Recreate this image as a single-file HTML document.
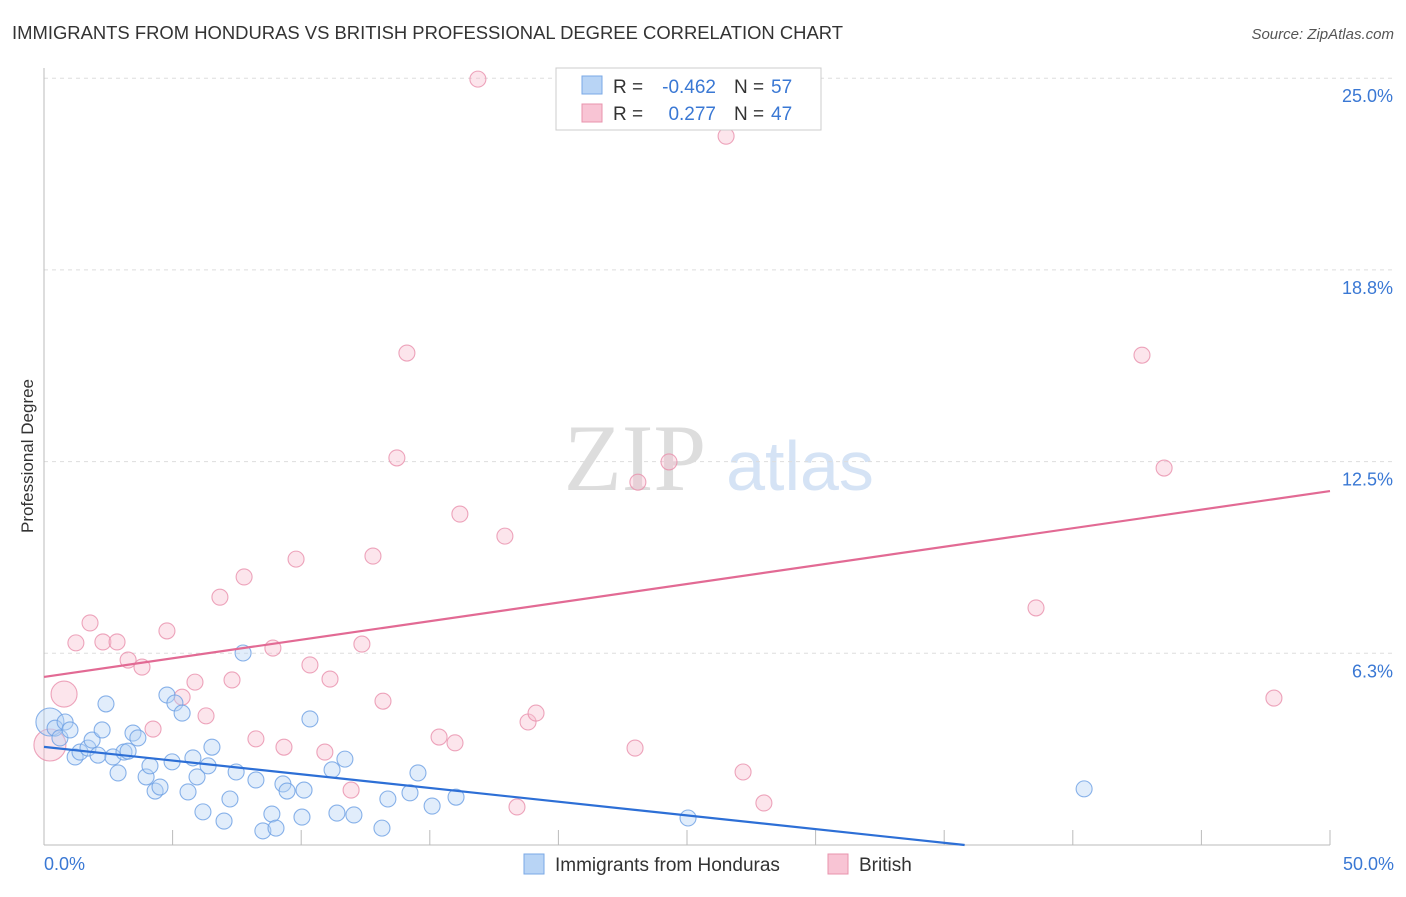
<!DOCTYPE html>
<html><head><meta charset="utf-8"><style>
body{margin:0;background:#fff;font-family:"Liberation Sans",sans-serif}
</style></head><body>
<svg id="c" width="1406" height="892" xmlns="http://www.w3.org/2000/svg">
<text x="12" y="39" font-size="18" fill="#333" textLength="831" lengthAdjust="spacingAndGlyphs">IMMIGRANTS FROM HONDURAS VS BRITISH PROFESSIONAL DEGREE CORRELATION CHART</text>
<text x="1394" y="39" font-size="15" fill="#555" font-style="italic" text-anchor="end">Source: ZipAtlas.com</text>
<text transform="translate(33,456) rotate(-90)" font-size="17" fill="#333" text-anchor="middle">Professional Degree</text>
<g><text x="635" y="490" font-size="95" fill="#ddd" font-family="Liberation Serif" text-anchor="middle">ZIP</text><text x="800" y="490" font-size="70" fill="#d5e3f5" text-anchor="middle">atlas</text></g>
<g id="grid"></g><g id="axes"></g><g id="pts"></g><g id="lines"></g>
<g>
<rect x="556" y="68" width="265" height="62" fill="#fff" stroke="#ccc"/>
<rect x="582" y="76" width="20" height="18" fill="#b8d4f5" stroke="#7aa8e6"/>
<text x="613" y="93" font-size="19" fill="#333">R =</text>
<text x="716" y="93" font-size="19" fill="#3a78d4" text-anchor="end">-0.462</text>
<text x="734" y="93" font-size="19" fill="#333">N =</text>
<text x="771" y="93" font-size="19" fill="#3a78d4">57</text>
<rect x="582" y="104" width="20" height="18" fill="#f8c4d4" stroke="#e893ad"/>
<text x="613" y="120" font-size="19" fill="#333">R =</text>
<text x="716" y="120" font-size="19" fill="#3a78d4" text-anchor="end">0.277</text>
<text x="734" y="120" font-size="19" fill="#333">N =</text>
<text x="771" y="120" font-size="19" fill="#3a78d4">47</text>
</g>
<g>
<rect x="524" y="854" width="20" height="20" fill="#b8d4f5" stroke="#7aa8e6"/>
<text x="555" y="871" font-size="19" fill="#333">Immigrants from Honduras</text>
<rect x="828" y="854" width="20" height="20" fill="#f8c4d4" stroke="#e893ad"/>
<text x="859" y="871" font-size="19" fill="#333">British</text>
</g>
</svg>
<script>
const blueX=[.23,.43,.62,.82,1.01,1.21,1.40,1.71,1.87,2.10,2.26,2.41,2.68,2.88,3.11,3.27,3.46,3.65,3.97,4.12,4.32,4.51,4.78,4.98,5.09,5.37,5.60,5.79,5.95,6.18,6.38,6.53,7.00,7.23,7.47,7.74,8.24,8.51,8.86,9.02,9.29,9.45,10.03,10.11,10.34,11.20,11.39,11.70,12.05,13.14,13.37,14.23,14.54,15.09,16.02,25.04,40.44];
const blueY=[4.01,3.81,3.49,4.01,3.75,2.87,3.03,3.16,3.42,2.93,3.75,4.60,2.87,2.35,3.03,3.06,3.65,3.49,2.22,2.58,1.76,1.89,4.89,2.71,4.63,4.30,1.73,2.84,2.22,1.08,2.58,3.19,.78,1.50,2.38,6.26,2.12,.46,1.01,.55,1.99,1.76,.91,1.79,4.11,2.45,1.04,2.80,.98,.55,1.50,1.70,2.35,1.27,1.56,.88,1.83];
const pinkX=[.23,.78,1.24,1.79,2.29,2.84,3.27,3.81,4.24,4.78,5.37,5.87,6.30,6.84,7.31,7.78,8.24,8.90,9.33,9.80,10.34,10.92,11.12,11.94,12.36,12.79,13.18,13.72,14.11,15.36,15.98,16.17,16.87,17.92,18.39,18.82,19.13,22.98,23.09,24.30,26.52,27.18,27.99,38.57,42.69,43.55,47.82];
const pinkY=[3.26,4.92,6.59,7.24,6.62,6.62,6.03,5.80,3.78,6.98,4.82,5.31,4.21,8.08,5.38,8.74,3.46,6.42,3.19,9.32,5.87,3.03,5.41,1.79,6.55,9.42,4.69,12.62,16.04,3.52,3.33,10.79,24.97,10.07,1.24,4.01,4.30,3.16,11.83,12.49,23.11,2.38,1.37,7.73,15.97,12.29,4.79];
const yTicks=[6.25,12.5,18.75,25];
const yTickLabels=["6.3%","12.5%","18.8%","25.0%"];
const blueTrend=[3.2,-1.27];
const pinkTrend=[5.48,11.54];
const NS="http://www.w3.org/2000/svg";
const X=v=>44+v/50*1286, Y=v=>845-v/6.25*191.7;
function mk(t,a,p){const e=document.createElementNS(NS,t);for(const k in a)e.setAttribute(k,a[k]);document.getElementById(p).appendChild(e);return e;}
yTicks.forEach((t,i)=>{
 const l=mk('line',{x1:44,x2:1395,y1:Y(t),y2:Y(t),stroke:'#ddd','stroke-dasharray':'4,4'},'grid');
 
 
 const tx=mk('text',{x:1393,y:Y(t)+24,'font-size':18,fill:'#3a78d4','text-anchor':'end'},'grid');
 tx.textContent=yTickLabels[i];
 
 
});
const ya=mk('line',{x1:44,x2:44,y1:68,y2:845,stroke:'#bbb'},'axes');


const xa=mk('line',{x1:44,x2:1330,y1:845,y2:845,stroke:'#bbb'},'axes');


for(let v=5;v<=50;v+=5){const t=mk('line',{x1:X(v),x2:X(v),y1:830,y2:845,stroke:'#bbb'},'axes');
 
 }
[[0,"0.0%",'start',44],[50,"50.0%",'end',1394]].forEach(a=>{const t=mk('text',{x:a[3],y:870,'font-size':18,fill:'#3a78d4','text-anchor':a[2]},'axes');t.textContent=a[1];
 
 });
function pts(xs,ys,fill,st,name,big){xs.forEach((x,i)=>{const r=big[i]||8;const c=mk('circle',{cx:X(x),cy:Y(ys[i]),r:r,fill:fill,'fill-opacity':.4,stroke:st,'stroke-opacity':.8,'stroke-width':1.1},'pts');
 
 });}
pts(pinkX,pinkY,'#f8bfd0','#e98fab','british-point',{0:16,1:13});
pts(blueX,blueY,'#b5d1f4','#6b9fe3','honduras-point',{0:14});
let bx1=50,by1=blueTrend[1];if(by1<0){bx1=50*blueTrend[0]/(blueTrend[0]-blueTrend[1]);by1=0;}
const bl=mk('line',{x1:X(0),y1:Y(blueTrend[0]),x2:X(bx1),y2:Y(by1),stroke:'#2d6fd6','stroke-width':2.2},'lines');


const pl=mk('line',{x1:X(0),y1:Y(pinkTrend[0]),x2:X(50),y2:Y(pinkTrend[1]),stroke:'#e26a94','stroke-width':2.2},'lines');


</script>
</body></html>
